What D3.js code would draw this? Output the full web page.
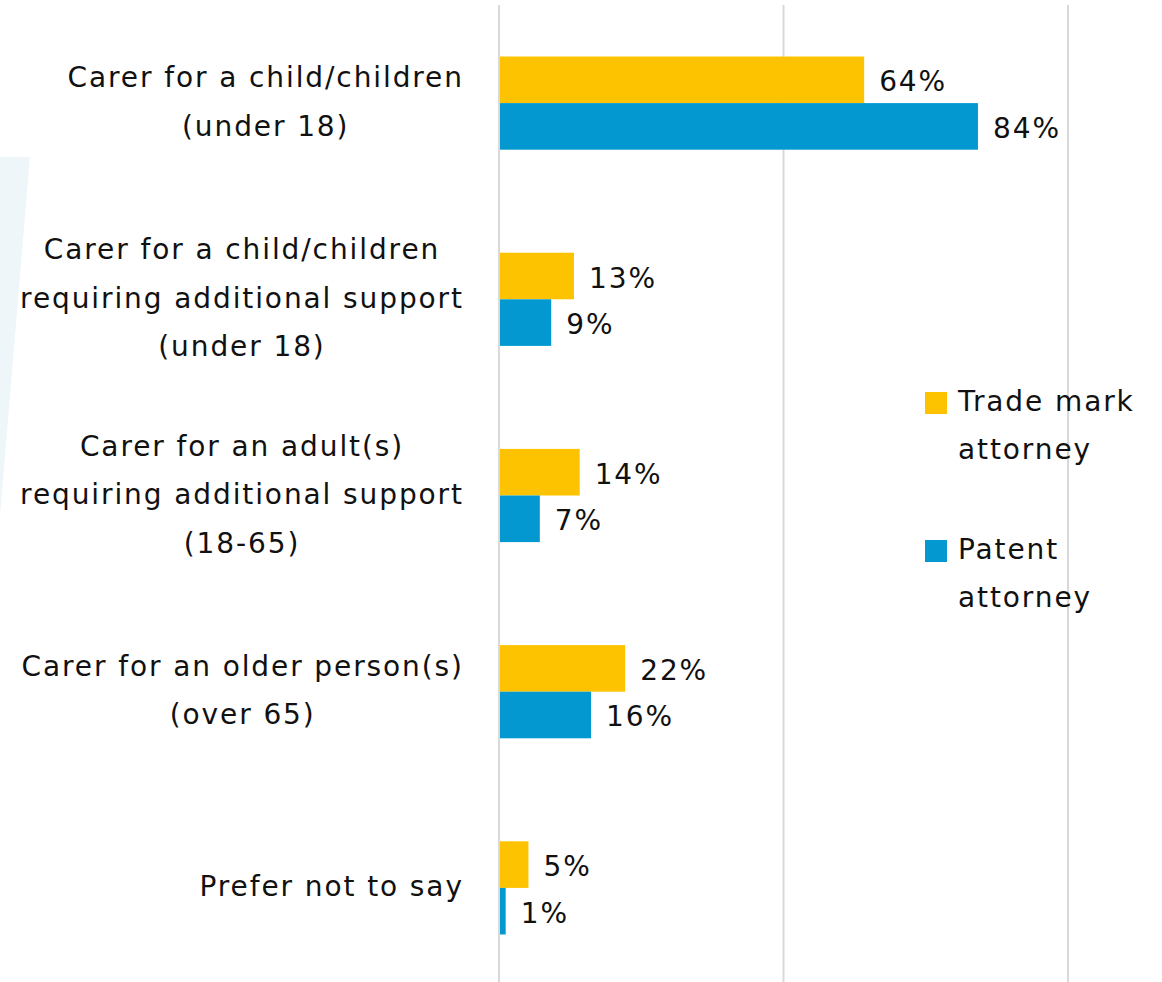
<!DOCTYPE html>
<html><head><meta charset="utf-8">
<script src="https://cdn.jsdelivr.net/npm/d3@7"></script>
<style>body{margin:0;background:#fff}svg{display:block}text{font-family:"DejaVu Sans",sans-serif;fill:#111;letter-spacing:1.9px}</style>
</head><body>
<svg id="c" width="1162" height="982"></svg>
<script>
const categories = [
  ["Carer for a child/children","(under 18)"],
  ["Carer for a child/children","requiring additional support","(under 18)"],
  ["Carer for an adult(s)","requiring additional support","(18-65)"],
  ["Carer for an older person(s)","(over 65)"],
  ["Prefer not to say"]
];
const seriesNames = ["Trade mark attorney","Patent attorney"];
const tradeMark = [64,13,14,22,5];
const patent = [84,9,7,16,1];
const xTicks = [0,50,100];
const colors = ["#FDC300","#0399D0"];

const svg = d3.select("#c");
const fs = 28, ls = 1.9;
// decorative background
svg.append("path").attr("d","M0,157 L30,157 L0,515 Z").attr("fill","#eef6fa");

const x = d3.scaleLinear().domain([0,100]).range([500,1069]);
const y = d3.scaleBand().domain(d3.range(categories.length)).range([5,986]).paddingInner(0.525).paddingOuter(0.2625);
const sub = d3.scaleBand().domain([0,1]).range([0,y.bandwidth()]);

svg.append("g").selectAll("line").data(xTicks).join("line")
  .attr("x1",d=>x(d)-1).attr("x2",d=>x(d)-1).attr("y1",5).attr("y2",982)
  .attr("stroke","#d9d9d9").attr("stroke-width",2);

const series=[tradeMark,patent];
series.forEach((vals,si)=>{
  const g=svg.append("g");
  g.selectAll("rect").data(vals).join("rect")
    .attr("x",x(0)).attr("y",(d,i)=>y(i)+sub(si))
    .attr("width",d=>x(d)-x(0)).attr("height",sub.bandwidth())
    .attr("fill",colors[si]);
  g.selectAll("text").data(vals).join("text")
    .attr("x",d=>x(d)+15).attr("y",(d,i)=>y(i)+sub(si)+sub.bandwidth()/2+2)
    .attr("dominant-baseline","central").attr("font-size",fs).text(d=>d+"%");
});

// category labels
const lh=48.5;
categories.forEach((lines,i)=>{
  const cy=y(i)+y.bandwidth()/2;
  const g=svg.append("g");
  const ts=lines.map((l,j)=>g.append("text").attr("font-size",fs)
    .attr("dominant-baseline","central")
    .attr("y",cy+(j-(lines.length-1)/2)*lh-1).text(l));
  const ws=ts.map(t=>t.node().getComputedTextLength()-ls);
  const w=d3.max(ws);
  ts.forEach((t,j)=>t.attr("x",462-w/2-ws[j]/2));
});

// legend
const leg=[[seriesNames[0],"Trade mark","attorney",403],[seriesNames[1],"Patent","attorney",551]];
leg.forEach((l,i)=>{
  svg.append("rect").attr("x",925).attr("y",l[3]-11).attr("width",22).attr("height",22).attr("fill",colors[i]);
  svg.append("text").attr("x",958).attr("y",l[3]-2).attr("dominant-baseline","central").attr("font-size",fs).text(l[1]);
  svg.append("text").attr("x",958).attr("y",l[3]-2+lh).attr("dominant-baseline","central").attr("font-size",fs).text(l[2]);
});
</script>
</body></html>
